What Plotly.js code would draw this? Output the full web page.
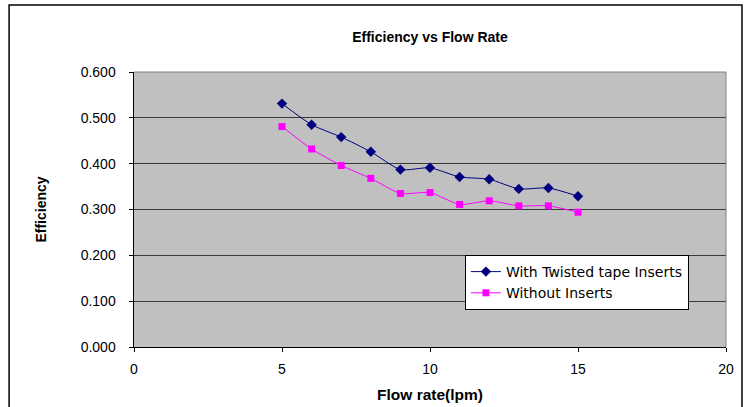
<!DOCTYPE html>
<html>
<head>
<meta charset="utf-8">
<script src="https://cdn.plot.ly/plotly-3.0.1.min.js"></script>
<style>html,body{margin:0;padding:0;background:#fff;}#chart{width:745px;height:407px;}</style>
</head>
<body>
<div id="chart"></div>
<script>
const flowRate = [5, 6, 7, 8, 9, 10, 11, 12, 13, 14, 15];
const withTwistedTape = [0.531, 0.485, 0.458, 0.426, 0.387, 0.391, 0.371, 0.366, 0.345, 0.347, 0.329];
const withoutInserts = [0.481, 0.432, 0.396, 0.368, 0.335, 0.337, 0.311, 0.319, 0.308, 0.308, 0.294];
const yTickVals = [0, 0.1, 0.2, 0.3, 0.4, 0.5, 0.6];
const yTickText = ["0.000", "0.100", "0.200", "0.300", "0.400", "0.500", "0.600"];
const xTickVals = [0, 5, 10, 15, 20];

const font = "Liberation Sans, Arial, sans-serif";
const legendFont = "DejaVu Sans, Liberation Sans, Arial, sans-serif";
const traces = [
  {
    x: flowRate, y: withTwistedTape, name: "With Twisted tape Inserts",
    type: "scatter", mode: "lines+markers",
    line: {color: "#000080", width: 1, shape: "spline", smoothing: 0.6},
    marker: {symbol: "diamond", size: 8, color: "#000080"}
  },
  {
    x: flowRate, y: withoutInserts, name: "Without Inserts",
    type: "scatter", mode: "lines+markers",
    line: {color: "#FF00FF", width: 1, shape: "spline", smoothing: 0.6},
    marker: {symbol: "square", size: 7, color: "#FF00FF"}
  }
];
const layout = {
  width: 745, height: 407,
  margin: {l: 134, r: 19, t: 72, b: 60, pad: 0},
  paper_bgcolor: "#ffffff",
  plot_bgcolor: "#C0C0C0",
  font: {family: font, size: 14, color: "#000"},
  title: {text: "<b>Efficiency vs Flow Rate</b>", font: {family: font, size: 14, color: "#000"},
          x: 0.5, xref: "paper", xanchor: "center", y: 0.91, yref: "container", yanchor: "middle"},
  showlegend: true,
  legend: {x: 0.559, y: 0.2345, xanchor: "left", yanchor: "middle", bgcolor: "#ffffff",
           bordercolor: "#000", borderwidth: 1, font: {family: legendFont, size: 14, color: "#000"},
           tracegroupgap: 0, itemwidth: 30},
  xaxis: {
    range: [0, 20], tickvals: xTickVals, ticktext: xTickVals.map(String),
    ticks: "outside", ticklen: 4, tickcolor: "#000", showgrid: false, zeroline: false,
    showline: true, linecolor: "#000", linewidth: 1, mirror: false, ticklabelstandoff: 5,
    tickfont: {family: font, size: 14, color: "#000"},
    title: {text: "<b>Flow rate(lpm)</b>", font: {family: font, size: 15.5, color: "#000"}, standoff: 13}
  },
  yaxis: {
    range: [0, 0.6], tickvals: yTickVals, ticktext: yTickText,
    ticks: "outside", ticklen: 4, tickcolor: "#000", showgrid: true, gridcolor: "#3a3a3a", gridwidth: 1,
    zeroline: false, showline: true, linecolor: "#000", linewidth: 1.5, ticklabelstandoff: 10,
    tickfont: {family: font, size: 14, color: "#000"},
    title: {text: "<b>Efficiency</b>", font: {family: font, size: 14, color: "#000"}, standoff: 31}
  },
  shapes: [
    {type: "line", xref: "paper", yref: "paper", x0: 1, x1: 1, y0: 0, y1: 1,
     line: {color: "#808080", width: 1}},
    {type: "line", xref: "paper", yref: "paper", x0: 0, x1: 1, y0: 1, y1: 1,
     line: {color: "#808080", width: 1}},
    {type: "rect", xref: "paper", yref: "paper", x0: -0.211, x1: 1.027, y0: -0.25, y1: 1.2436,
     line: {color: "#000", width: 1.5}, layer: "below"}
  ]
};
Plotly.newPlot("chart", traces, layout, {staticPlot: true, displayModeBar: false});
</script>
</body>
</html>
